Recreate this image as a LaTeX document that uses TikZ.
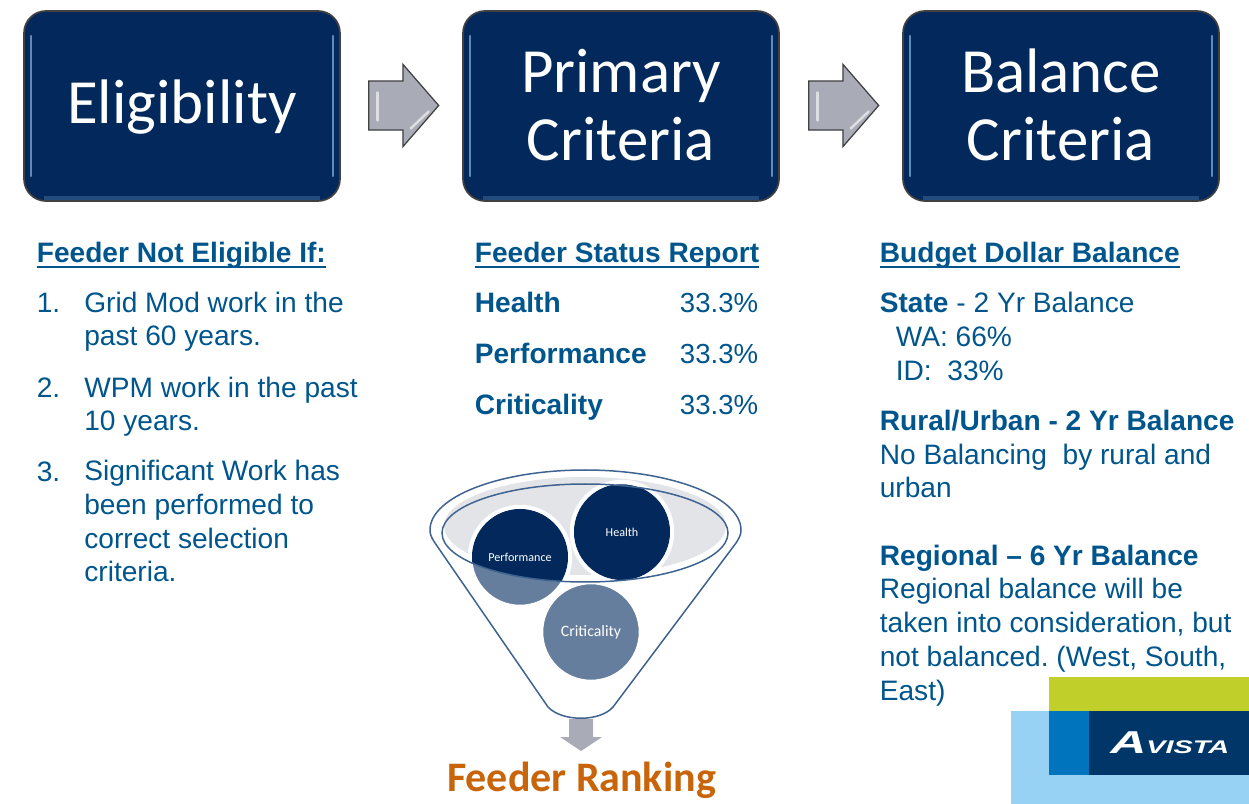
\documentclass[tikz,border=0pt]{standalone}
\usepackage{fontspec}
\setmainfont{Liberation Sans}
\newfontfamily\calibrifont{Carlito}
\usetikzlibrary{shapes.arrows, positioning}
\definecolor{navybox}{HTML}{03295C}
\definecolor{glossblue}{HTML}{5F8BBA}
\definecolor{bodyblue}{HTML}{00558C}
\definecolor{steelblue}{HTML}{667E9E}
\definecolor{funnelline}{HTML}{3F6390}
\definecolor{funnelgray}{HTML}{E3E4E8}
\definecolor{arrowgray}{HTML}{A9ACB6}
\definecolor{rankorange}{HTML}{C8650A}
\definecolor{logogreen}{HTML}{C0CF2A}
\definecolor{logosky}{HTML}{97D2F4}
\definecolor{logomid}{HTML}{0075BE}
\definecolor{logonavy}{HTML}{003768}
\newcommand{\rulebelow}[1]{\sbox0{#1}\rlap{\rule[-2.9pt]{\wd0}{0.85pt}}\box0}
\tikzset{
  titlebox/.style={rounded corners=0.44cm, fill=navybox, draw=black!75, line width=0.035cm,
    minimum width=6.32cm, minimum height=3.8cm, inner sep=0pt, text=white, align=center,
    font=\calibrifont\fontsize{35.8}{38.7}\selectfont,
    path picture={
      \draw[glossblue, line width=0.05cm, line cap=round]
        ([shift={(0.14cm,-0.5cm)}]path picture bounding box.north west) --
        ([shift={(0.14cm,0.5cm)}]path picture bounding box.south west);
      \draw[glossblue, line width=0.05cm, line cap=round]
        ([shift={(-0.14cm,-0.5cm)}]path picture bounding box.north east) --
        ([shift={(-0.14cm,0.5cm)}]path picture bounding box.south east);
      \draw[navybox!65!glossblue, line width=0.08cm]
        ([shift={(0.4cm,0.05cm)}]path picture bounding box.south west) --
        ([shift={(-0.4cm,0.05cm)}]path picture bounding box.south east);
    }},
  stepblock/.style={single arrow, single arrow head extend=0.33cm, single arrow tip angle=98,
    minimum height=1.4cm, text height=0.96cm, text depth=0pt, text width=0pt, inner sep=0pt,
    fill=arrowgray, draw=black!75, line width=0.025cm,
    path picture={
      \draw[white!60!arrowgray, line width=0.05cm, line cap=round]
        ([shift={(-0.52cm,0.26cm)}]path picture bounding box.center) --
        ([shift={(-0.52cm,-0.3cm)}]path picture bounding box.center);
      \draw[white!60!arrowgray, line width=0.05cm, line cap=round]
        ([shift={(0.14cm,-0.46cm)}]path picture bounding box.center) --
        ([shift={(0.5cm,-0.12cm)}]path picture bounding box.center);
    }},
  heading/.style={anchor=base west, inner sep=0pt, text=bodyblue, font=\fontsize{16}{19.2}\selectfont\bfseries},
  bodytext/.style={anchor=base west, inner sep=0pt, text=bodyblue, align=left, font=\fontsize{16}{19.2}\selectfont\frenchspacing},
  percent/.style={anchor=base east, inner sep=0pt, text=bodyblue, font=\fontsize{15.7}{19.2}\selectfont},
  ball/.style={circle, minimum size=2cm, inner sep=0pt, text=white, font=\calibrifont\fontsize{6.9}{8}\selectfont},
  halo/.style={draw=white, line width=0.09cm},
  funnelstroke/.style={draw=funnelline, line width=0.03cm}
}
\begin{document}
\begin{tikzpicture}[x=0.02cm, y=-0.02cm]
\useasboundingbox (0,0) rectangle (1249,804);
% top row
\node[titlebox] (eligibility) at (182,106) {\raisebox{-10.2pt}[0pt][0pt]{Eligibility}};
\node[titlebox] (primary) at (621,106) {\raisebox{1.1pt}{Primary}\\\raisebox{1.1pt}{Criteria}};
\node[titlebox] (balance) at (1061,106) {\raisebox{1.1pt}{Balance}\\\raisebox{1.1pt}{Criteria}};
\node[stepblock] (stepone) at (393,105.5) {};
\node[stepblock] (steptwo) at (833,105.5) {};
% left column
\node[heading] (nothead) at (36.5,262.7) {\rulebelow{Feeder Not Eligible If:}};
\node[bodytext] (numone) at (36.5,312.8) {1.};
\node[bodytext] (itemone) at (84,346) {Grid Mod work in the\\past 60 years.};
\node[bodytext] (numtwo) at (36.5,397.8) {2.};
\node[bodytext] (itemtwo) at (84,431) {WPM work in the past\\10 years.};
\node[bodytext] (numthree) at (36.5,481.8) {3.};
\node[bodytext] (itemthree) at (84,582) {Significant Work has\\been performed to\\correct selection\\criteria.};
% middle column
\node[heading] (statushead) at (474.5,262.7) {\rulebelow{Feeder Status Report}};
\node[heading] (health) at (474.5,312.7) {Health};
\node[percent] (healthval) at (758.5,312.5) {33.3\%};
\node[heading] (performance) at (474.5,363.7) {Performance};
\node[percent] (performanceval) at (758.5,363.5) {33.3\%};
\node[heading] (criticality) at (474.5,414.7) {Criticality};
\node[percent] (criticalityval) at (758.5,414.5) {33.3\%};
% funnel
\draw[funnelstroke] (548,707) -- (435,543) .. controls (431,537) and (430,534) .. (430,530)
  .. controls (430,497) and (499,470) .. (585,470) .. controls (671,470) and (741,497) .. (741,530)
  .. controls (741,534) and (740,537) .. (736,543) -- (613,707)
  .. controls (600,722) and (562,722) .. (548,707);
\fill[funnelgray] (585,526) ellipse (141 and 49);
\node[ball, fill=steelblue, halo] (perfball) at (520,557) {};
\node[ball, fill=navybox, halo] (healthball) at (622,532) {};
\node[ball, fill=steelblue, halo, font=\calibrifont\fontsize{9}{10}\selectfont] (critball) at (591,632) {Criticality};
\begin{scope}
\clip (585,533) ellipse (143 and 49);
\fill[navybox] (perfball.center) circle (48);
\fill[navybox] (healthball.center) circle (48);
\end{scope}
\draw[funnelstroke] (585,533) ellipse (143 and 49);
\node[font=\calibrifont\fontsize{6.9}{8}\selectfont, text=white, inner sep=0pt] (perflabel) at (perfball.center) {Performance};
\node[font=\calibrifont\fontsize{6.9}{8}\selectfont, text=white, inner sep=0pt] (healthlabel) at (healthball.center) {Health};
\fill[arrowgray] (569,719) -- (593,719) -- (593,737) -- (602,737) -- (581,751) -- (560,737) -- (569,737) -- cycle;
\node[anchor=base, inner sep=0pt, text=rankorange, font=\calibrifont\fontsize{23.9}{26}\selectfont\bfseries] (ranking) at (581.5,791.5) {Feeder Ranking};
% right column
\node[heading] (budgethead) at (879.5,262.7) {\rulebelow{Budget Dollar Balance}};
\node[bodytext] (state) at (879.5,313) {\textbf{State} - 2 Yr Balance};
\node[bodytext] (wa) at (895.5,347) {WA: 66\%};
\node[bodytext] (id) at (895.5,381) {ID:\ \ 33\%};
\node[heading] (rural) at (879.5,430.7) {Rural/Urban - 2 Yr Balance};
\node[bodytext] (ruraltext) at (879.5,498) {No Balancing\ \ by rural and\\urban};
% logo sits under the last text lines
\fill[logosky] (1011,711) rectangle (1249,804);
\fill[logogreen] (1049,677) rectangle (1249,711);
\fill[logomid] (1049,711) rectangle (1089,775);
\fill[logonavy] (1089,711) rectangle (1249,775);
\node[anchor=base west, inner sep=0pt, text=white, font=\fontsize{10.4}{14}\selectfont\bfseries\itshape] (avista) at (1110,753) {\scalebox{1.58}[1]{{\fontsize{18}{14}\selectfont A}VISTA}};
\node[heading] (regional) at (879.5,565.7) {Regional – 6 Yr Balance};
\node[bodytext] (regionaltext) at (879.5,700) {Regional balance will be\\taken into consideration, but\\not balanced. (West, South,\\East)};
\end{tikzpicture}
\end{document}
